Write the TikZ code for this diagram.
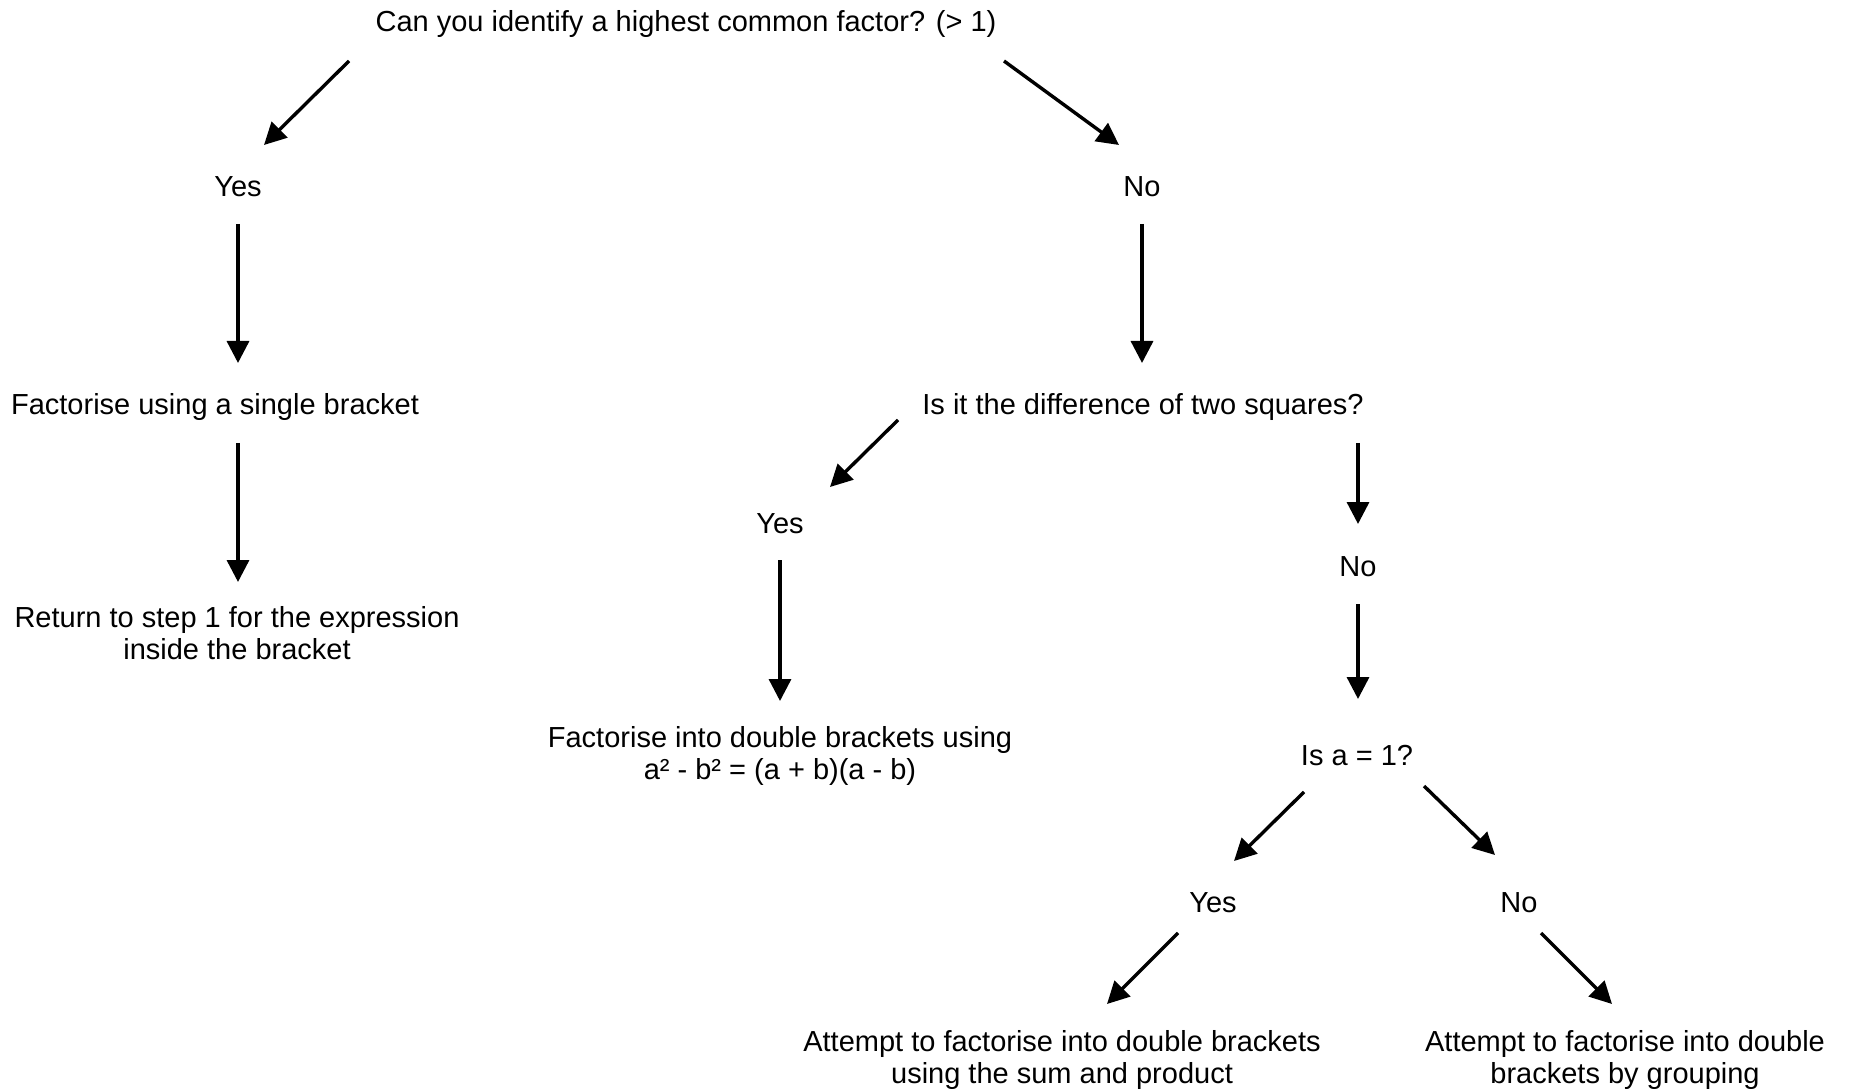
\documentclass[tikz,border=0pt]{standalone}
\usepackage{fontspec}
\setmainfont{Liberation Sans}
\usetikzlibrary{arrows.meta}
\tikzset{
  lbl/.style={align=center,font=\fontsize{14.5}{16}\selectfont,inner sep=0pt},
  arr/.style={-{Triangle[length=11pt,width=11pt]},line width=1.7pt},
}
\begin{document}
\begin{tikzpicture}[x=0.5pt,y=-0.5pt]
\useasboundingbox (0,0) rectangle (1850,1090);
% Questions and answers
\node[lbl] (q1) at (686,24) {Can you identify a highest common factor? (> 1)};
\node[lbl] (yes1) at (238,187) {Yes};
\node[lbl] (no1) at (1142,187) {No};
\node[lbl] (fac1) at (215,407) {Factorise using a single bracket};
\node[lbl] (q2) at (1143,407) {Is it the difference of two squares?};
\node[lbl] (ret1) at (237,633) {Return to step 1 for the expression\\inside the bracket};
\node[lbl] (yes2) at (780,524) {Yes};
\node[lbl] (dots) at (780,756) {Factorise into double brackets using\\a² - b² = (a + b)(a - b)};
\node[lbl] (no2) at (1358,567) {No};
\node[lbl] (q3) at (1357,756) {Is a = 1?};
\node[lbl] (yes3) at (1213,903) {Yes};
\node[lbl] (no3) at (1519,903) {No};
\node[lbl] (sp) at (1062,1060) {Attempt to factorise into double brackets\\using the sum and product};
\node[lbl] (grp) at (1625,1060) {Attempt to factorise into double\\brackets by grouping};

% Arrows
\draw[arr] ([shift={(-337,37)}]q1.center) -- ([shift={(26,-42)}]yes1.center);
\draw[arr] ([shift={(318,37)}]q1.center) -- ([shift={(-23,-42)}]no1.center);
\draw[arr] ([shift={(0,37)}]yes1.center) -- ([shift={(23,-44)}]fac1.center);
\draw[arr] ([shift={(0,37)}]no1.center) -- ([shift={(-1,-44)}]q2.center);
\draw[arr] ([shift={(23,36)}]fac1.center) -- ([shift={(1,-51)}]ret1.center);
\draw[arr] ([shift={(-245,13)}]q2.center) -- ([shift={(50,-37)}]yes2.center);
\draw[arr] ([shift={(0,36)}]yes2.center) -- ([shift={(0,-55)}]dots.center);
\draw[arr] ([shift={(215,36)}]q2.center) -- ([shift={(0,-43)}]no2.center);
\draw[arr] ([shift={(0,37)}]no2.center) -- ([shift={(1,-57)}]q3.center);
\draw[arr] ([shift={(-53,36)}]q3.center) -- ([shift={(21,-42)}]yes3.center);
\draw[arr] ([shift={(67,30)}]q3.center) -- ([shift={(-24,-48)}]no3.center);
\draw[arr] ([shift={(-35,30)}]yes3.center) -- ([shift={(45,-56)}]sp.center);
\draw[arr] ([shift={(22,30)}]no3.center) -- ([shift={(-13,-56)}]grp.center);
\end{tikzpicture}
\end{document}
